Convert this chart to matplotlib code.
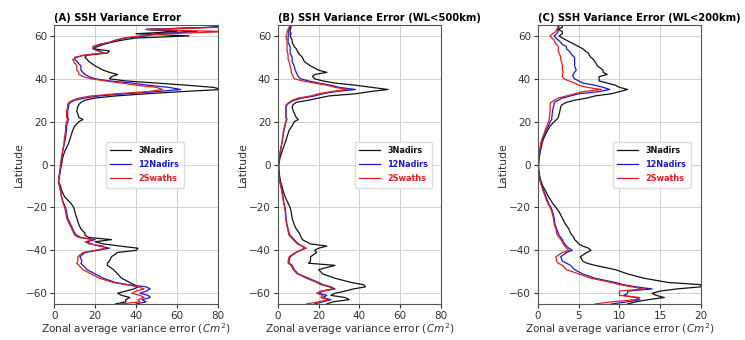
import matplotlib.pyplot as plt

# latitudes shared by all profiles
lat = [-65, -64, -63, -62, -61, -60, -59, -58, -57, -56,
       -55, -53, -51, -49, -47, -46, -45, -43, -41, -40,
       -39, -38, -37, -36, -35, -34, -33, -32, -30, -28,
       -25, -22, -20, -18, -15, -12, -10, -8, -5, -2,
       0, 3, 6, 10, 13, 16, 18, 20, 21, 22,
       25, 27, 28, 29, 30, 31, 32, 33, 34, 35,
       36, 37, 38, 39, 40, 41, 42, 43, 44, 46,
       48, 49, 50, 51, 52, 53, 54, 55, 56, 57,
       58, 59, 60, 61, 62, 63, 64, 65]

# (A) SSH variance error
a_3nadirs = [30, 35, 35, 37, 33, 31, 35, 39, 41, 39,
             37, 33, 31, 29, 26, 26, 27, 28, 31, 40,
             41, 32, 24, 20, 28, 17, 15, 15, 13, 12,
             11, 10, 9.5, 8, 5, 3.5, 3, 2, 2.5, 3,
             3.5, 4, 5, 7, 8, 9, 10, 12, 14, 12,
             11, 11.5, 12, 13, 15, 20, 30, 45, 62, 82,
             78, 65, 50, 35, 27, 28, 31, 27, 24, 20,
             17, 16, 15, 16, 26, 27, 19, 21, 24, 28,
             33, 40, 66, 40, 60, 45, 76, 85]
a_12nadirs = [40, 45, 43, 47, 46, 42, 45, 47, 45, 36,
              30, 24, 20, 16, 14, 13, 13.5, 12.5, 15, 21,
              27, 22, 18, 16, 20, 13, 11, 10, 9, 8,
              6.5, 6, 5.5, 4.5, 3.5, 3, 2.5, 2, 2.5, 3,
              3.2, 3.5, 4, 5, 5.5, 6, 6, 6.5, 7, 6.5,
              6.5, 7, 7, 8, 10, 15, 22, 35, 50, 62,
              56, 46, 38, 27, 20, 17, 15, 14, 13, 13,
              11, 10, 10, 15, 24, 22, 19, 19, 22, 27,
              30, 35, 45, 50, 70, 45, 78, 85]
a_2swaths = [32, 42, 41, 44, 42, 38, 40, 44, 41, 35,
             29, 22, 18, 14, 12, 11, 11.5, 11.5, 14, 20,
             25, 24, 17, 15, 19, 12, 10, 9.5, 8.5, 7.5,
             6, 5.5, 5, 4.2, 3.5, 3, 2.5, 2, 2.3, 2.8,
             3, 3.5, 4, 4.7, 5, 5.5, 5.5, 6, 6.5, 6,
             6, 6.5, 6.5, 7, 9, 12, 18, 30, 46, 53,
             50, 40, 33, 25, 18, 14, 12, 12, 11, 11,
             9.5, 9, 11, 14, 25, 21, 19, 19, 22, 27,
             30, 34, 42, 55, 85, 45, 80, 85]

# (B) SSH variance error, WL<500km
b_3nadirs = [24, 27, 35, 33, 26, 28, 33, 37, 43, 42,
             36, 28, 22, 20, 28, 15, 16, 16, 19, 18,
             20, 24, 16, 14, 12, 11.5, 11, 10.5, 9, 8,
             7, 6.5, 6, 5, 3.5, 2.5, 2, 1.3, 0.8, 0.5,
             0.5, 1, 2, 3.5, 4.5, 5.5, 7, 8, 10, 9,
             7.5, 7, 7.5, 9, 15, 20, 25, 38, 45, 54,
             46, 38, 28, 22, 18, 17, 18, 24, 20, 16,
             13, 12.5, 12, 11, 10, 9.5, 9, 8, 7.5, 7,
             7, 6.5, 6, 6.5, 6, 6, 6.5, 6]
b_12nadirs = [18, 22, 26, 22, 24, 20, 22, 28, 26, 22,
              20, 15, 10, 8, 7, 5.5, 5.5, 6, 9, 11,
              13, 12, 10, 9, 8, 7, 6, 5.5, 5, 4.5,
              4, 3.8, 3.5, 3, 2.5, 2, 1.5, 1, 0.5, 0.3,
              0.3, 0.7, 1.2, 2, 2.5, 3, 3.5, 4, 4.5, 4,
              4, 4, 4.5, 6, 8, 12, 18, 22, 28, 38,
              30, 26, 20, 15, 11, 10, 9.5, 9, 8.5, 8,
              7, 7, 7, 6.5, 6, 6, 6, 6, 5.5, 5,
              5, 5, 5, 5.5, 5, 5.5, 6, 6]
b_2swaths = [14, 20, 25, 21, 22, 19, 21, 27, 25, 21,
             19, 14, 9.5, 7.5, 6.5, 5, 5, 5.5, 8.5, 11,
             14, 12, 9.5, 8.5, 7.5, 6.5, 5.5, 5.2, 4.8, 4.3,
             3.8, 3.6, 3.3, 2.8, 2.3, 1.8, 1.4, 0.9, 0.5, 0.3,
             0.3, 0.6, 1.1, 1.9, 2.4, 2.8, 3.3, 3.8, 4.2, 3.8,
             3.8, 3.8, 4.2, 5.5, 7, 10, 16, 20, 26, 34,
             28, 24, 18, 12, 8, 7.5, 7, 6.5, 6.5, 6,
             5.5, 5, 5, 5, 4.8, 4.5, 4.5, 4.5, 4.5, 4.5,
             4.5, 4, 4, 4.5, 4.5, 5, 5.5, 6]

# (C) SSH variance error, WL<200km
c_3nadirs = [11, 12, 13.5, 15.5, 14.5, 14, 15, 17, 20, 20,
             16, 13, 11, 9.5, 7, 6, 5.5, 5.2, 6, 6.5,
             6.2, 5.5, 5, 4.8, 4.5, 4.4, 4.2, 4, 3.8, 3.4,
             3, 2.6, 2.2, 1.8, 1.3, 0.9, 0.6, 0.4, 0.2, 0.1,
             0.1, 0.15, 0.3, 0.5, 0.8, 1.2, 1.5, 2, 2.3, 2.5,
             2.7, 2.8, 3, 3.5, 4.5, 6, 7, 9, 10, 11,
             10, 9.5, 8.5, 7.5, 7.5, 7.5, 8.5, 8, 8, 7.3,
             7, 6.8, 6.5, 6.3, 6.2, 5.8, 5.5, 5, 4.5, 4,
             3.5, 3, 2.6, 3, 3, 2.5, 3, 3]
c_12nadirs = [9, 11, 12.5, 12, 10.5, 11, 11, 14, 12, 10.5,
              9.5, 7, 5.5, 4.5, 4, 3.5, 3, 2.8, 3.5, 4.2,
              3.8, 3.5, 3.3, 3.1, 3, 2.8, 2.6, 2.5, 2.3, 2.1,
              2, 1.8, 1.6, 1.3, 1, 0.7, 0.5, 0.3, 0.15, 0.05,
              0.05, 0.1, 0.25, 0.4, 0.7, 1, 1.3, 1.5, 1.7, 1.7,
              1.8, 1.9, 2, 2, 2.5, 3, 4, 5, 7.5, 8.8,
              8, 7, 5.5, 5, 4.5, 4.3, 4.3, 4.5, 4.7, 4.5,
              4.5, 4.5, 4.5, 4.2, 4, 3.8, 3.5, 3.5, 3, 2.8,
              2.5, 2.2, 2, 2.3, 2.5, 2.4, 2.6, 2.5]
c_2swaths = [7, 9, 12, 12.5, 10, 10, 10, 13, 11.5, 10,
             9, 6.5, 5, 3.5, 3, 2.5, 2.3, 2.2, 3, 3.8,
             3.5, 3.3, 3.1, 3, 2.8, 2.6, 2.4, 2.3, 2.2, 2,
             1.9, 1.7, 1.5, 1.2, 0.9, 0.6, 0.45, 0.3, 0.12, 0.05,
             0.05, 0.1, 0.2, 0.35, 0.6, 0.9, 1.1, 1.3, 1.4, 1.4,
             1.5, 1.5, 1.5, 1.6, 2, 2.5, 3.5, 4.5, 5.5, 7.8,
             6, 5, 4.5, 3.8, 3.2, 3, 3, 3.1, 3, 3,
             2.9, 2.8, 2.8, 2.7, 2.6, 2.5, 2.5, 2.5, 2.3, 2.1,
             2, 1.7, 1.5, 1.8, 2.2, 2.3, 2.5, 2.3]

titles = ['(A) SSH Variance Error',
          '(B) SSH Variance Error (WL<500km)',
          '(C) SSH Variance Error (WL<200km)']
panels = [(a_3nadirs, a_12nadirs, a_2swaths),
          (b_3nadirs, b_12nadirs, b_2swaths),
          (c_3nadirs, c_12nadirs, c_2swaths)]
xmax = [80, 80, 20]
xticks = [[0, 20, 40, 60, 80], [0, 20, 40, 60, 80], [0, 5, 10, 15, 20]]
names = ['3Nadirs', '12Nadirs', '2Swaths']
colors = ['#111111', '#1a1acc', '#dd1f1f']
lefts = [0.073, 0.373, 0.722]
legend_x = [0.82, 0.975, 0.965]

plt.rcParams['font.family'] = ['DejaVu Sans']
fig = plt.figure(figsize=(7.45, 3.4), dpi=100)

for i in range(3):
    ax = fig.add_axes([lefts[i], 0.106, 0.219, 0.82])
    for vals, name, c in zip(panels[i], names, colors):
        ax.plot(vals, lat, color=c, lw=0.9, label=name)
    ax.set_xlim(0, xmax[i])
    ax.set_ylim(-65, 65)
    ax.set_xticks(xticks[i])
    ax.set_yticks([-60, -40, -20, 0, 20, 40, 60])
    ax.grid(True, color='#d0d0d0', lw=0.7)
    ax.tick_params(labelsize=7.5, colors='#333333', length=3, pad=2)
    for s in ax.spines.values():
        s.set_color('#555555')
    ax.set_title(titles[i], loc='left', fontsize=7.2, fontweight='bold', pad=3)
    ax.set_xlabel('Zonal average variance error ($Cm^2$)', fontsize=7.6, color='#333333', labelpad=0)
    ax.set_ylabel('Latitude', fontsize=7.8, color='#333333', labelpad=1)
    leg = ax.legend(loc='center right', bbox_to_anchor=(legend_x[i], 0.5),
                    prop={'size': 6.5, 'weight': 'bold', 'stretch': 'condensed'},
                    handlelength=2.3, labelspacing=0.55, borderpad=0.5,
                    framealpha=1, edgecolor='#dddddd')
    for t, c in zip(leg.get_texts(), colors):
        t.set_color(c)

fig.savefig('out.png', dpi=100)
